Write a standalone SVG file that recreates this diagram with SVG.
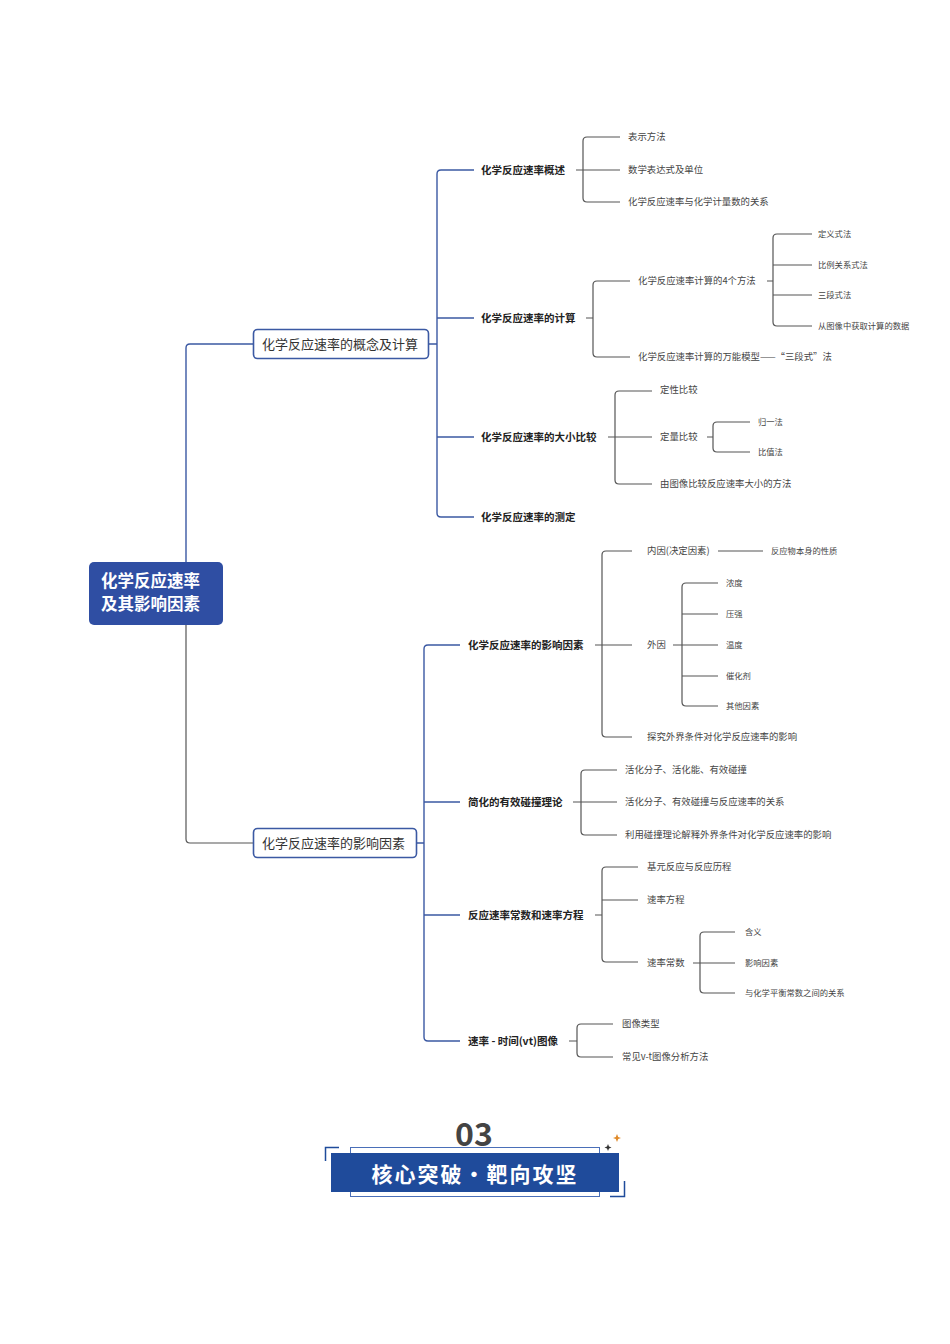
<svg xmlns="http://www.w3.org/2000/svg" width="950" height="1344" viewBox="0 0 950 1344">
<style>
text{font-family:"Noto Sans CJK SC","Noto Sans",sans-serif;dominant-baseline:central}
.root{fill:#fff;font-size:16.5px;font-weight:bold}
.l1{fill:#333;font-size:13px}
.l2{fill:#222;font-size:10.5px;font-weight:bold}
.l3{fill:#444;font-size:9.4px}
.l4{fill:#444;font-size:8.3px}
.cb{fill:none;stroke:#3b59a3;stroke-width:1.4}
.cg{fill:none;stroke:#555;stroke-width:1.2}
</style>
<rect width="950" height="1344" fill="#fff"/>
<g id="connectors">
<path class="cb" d="M186 562 V348 Q186 344 190 344 H253"/>
<path class="cg" d="M186 625 V839 Q186 843 190 843 H253"/>
<path class="cb" d="M428 344 H437 M474 170 H441 Q437 170 437 174 V513 Q437 517 441 517 H474 M437 318 H474 M437 437 H474"/>
<path class="cg" d="M576 170 H620 M620 137 H587 Q583 137 583 141 V198 Q583 202 587 202 H620"/>
<path class="cg" d="M586 318 H593 M630 281 H597 Q593 281 593 285 V353 Q593 357 597 357 H630"/>
<path class="cg" d="M767 281 H773 M812 234 H777 Q773 234 773 238 V322 Q773 326 777 326 H812 M773 265 H812 M773 295 H812"/>
<path class="cg" d="M608 437 H652 M652 391 H619 Q615 391 615 395 V480 Q615 484 619 484 H652"/>
<path class="cg" d="M707 437 H713 M750 422 H717 Q713 422 713 426 V448 Q713 452 717 452 H750"/>
<path class="cb" d="M416 843 H424 M460 645 H428 Q424 645 424 649 V1037 Q424 1041 428 1041 H460 M424 802 H460 M424 915 H460"/>
<path class="cg" d="M595 645 H632 M632 551 H606 Q602 551 602 555 V733 Q602 737 606 737 H632"/>
<path class="cg" d="M718 551 H763"/>
<path class="cg" d="M673 645 H718 M718 583 H686 Q682 583 682 587 V702 Q682 706 686 706 H718 M682 614 H718 M682 676 H718"/>
<path class="cg" d="M573 802 H617 M617 770 H585 Q581 770 581 774 V831 Q581 835 585 835 H617"/>
<path class="cg" d="M595 915 H602 M638 867 H606 Q602 867 602 871 V958 Q602 962 606 962 H638 M602 900 H638"/>
<path class="cg" d="M693 963 H735 M735 932 H704 Q700 932 700 936 V989 Q700 993 704 993 H735"/>
<path class="cg" d="M569 1041 H577 M613 1024 H581 Q577 1024 577 1028 V1053 Q577 1057 581 1057 H613"/>
</g>
<g id="root">
<rect x="89" y="562" width="134" height="63" rx="5" fill="#2f4ea3"/>
<text class="root" x="101" y="580">化学反应速率</text>
<text class="root" x="101" y="603">及其影响因素</text>
</g>
<g id="n-concept">
<rect x="253.5" y="329.5" width="175" height="29" rx="4" fill="#fff" stroke="#3b59a3" stroke-width="1.6"/>
<text class="l1" x="262" y="343" font-size="12.8">化学反应速率的概念及计算</text>
</g>
<g id="n-factors">
<rect x="253.5" y="828.5" width="163" height="29" rx="4" fill="#fff" stroke="#3b59a3" stroke-width="1.6"/>
<text class="l1" x="262" y="842" font-size="14">化学反应速率的影响因素</text>
</g>
<g id="n-overview" transform="translate(0,-1)">
<text class="l2" x="481" y="170">化学反应速率概述</text>
<text class="l3" x="628" y="137">表示方法</text>
<text class="l3" x="628" y="170">数学表达式及单位</text>
<text class="l3" x="628" y="202">化学反应速率与化学计量数的关系</text>
</g>
<g id="n-calc" transform="translate(0,-1)">
<text class="l2" x="481" y="318">化学反应速率的计算</text>
<text class="l3" x="638" y="281">化学反应速率计算的4个方法</text>
<text class="l3" x="638" y="357">化学反应速率计算的万能模型——“三段式”法</text>
<text class="l4" x="818" y="234">定义式法</text>
<text class="l4" x="818" y="265">比例关系式法</text>
<text class="l4" x="818" y="295">三段式法</text>
<text class="l4" x="818" y="326">从图像中获取计算的数据</text>
</g>
<g id="n-compare" transform="translate(0,-1)">
<text class="l2" x="481" y="437">化学反应速率的大小比较</text>
<text class="l3" x="660" y="390">定性比较</text>
<text class="l3" x="660" y="437">定量比较</text>
<text class="l3" x="660" y="484">由图像比较反应速率大小的方法</text>
<text class="l4" x="758" y="422">归一法</text>
<text class="l4" x="758" y="452">比值法</text>
</g>
<g id="n-measure" transform="translate(0,-1)">
<text class="l2" x="481" y="517">化学反应速率的测定</text>
</g>
<g id="n-influence" transform="translate(0,-1)">
<text class="l2" x="468" y="645">化学反应速率的影响因素</text>
<text class="l3" x="647" y="551">内因(决定因素)</text>
<text class="l4" x="771" y="551">反应物本身的性质</text>
<text class="l3" x="647" y="645">外因</text>
<text class="l4" x="726" y="583">浓度</text>
<text class="l4" x="726" y="614">压强</text>
<text class="l4" x="726" y="645">温度</text>
<text class="l4" x="726" y="676">催化剂</text>
<text class="l4" x="726" y="706">其他因素</text>
<text class="l3" x="647" y="737">探究外界条件对化学反应速率的影响</text>
</g>
<g id="n-collision" transform="translate(0,-1)">
<text class="l2" x="468" y="802">简化的有效碰撞理论</text>
<text class="l3" x="625" y="770">活化分子、活化能、有效碰撞</text>
<text class="l3" x="625" y="802">活化分子、有效碰撞与反应速率的关系</text>
<text class="l3" x="625" y="835">利用碰撞理论解释外界条件对化学反应速率的影响</text>
</g>
<g id="n-rate-eq" transform="translate(0,-1)">
<text class="l2" x="468" y="915">反应速率常数和速率方程</text>
<text class="l3" x="647" y="867">基元反应与反应历程</text>
<text class="l3" x="647" y="900">速率方程</text>
<text class="l3" x="647" y="963">速率常数</text>
<text class="l4" x="745" y="932">含义</text>
<text class="l4" x="745" y="963">影响因素</text>
<text class="l4" x="745" y="993">与化学平衡常数之间的关系</text>
</g>
<g id="n-vt" transform="translate(0,-1)">
<text class="l2" x="468" y="1041">速率 - 时间(vt)图像</text>
<text class="l3" x="622" y="1024">图像类型</text>
<text class="l3" x="622" y="1057">常见v-t图像分析方法</text>
</g>
<g id="banner">
<text x="474" y="1132" text-anchor="middle" font-size="32" font-weight="bold" fill="#444" font-family="'Noto Sans','Liberation Sans',sans-serif">03</text>
<rect x="350.5" y="1147.5" width="249" height="49" fill="none" stroke="#4a6fb8" stroke-width="1"/>
<rect x="331" y="1153" width="288" height="39" fill="#1f4b9b"/>
<text x="475" y="1173" text-anchor="middle" font-size="21" font-weight="bold" fill="#fff" letter-spacing="2">核心突破・靶向攻坚</text>
<path d="M325.5 1161 V1147.5 H339" fill="none" stroke="#1f4b9b" stroke-width="1.5"/>
<path d="M624.5 1181 V1196.5 H610" fill="none" stroke="#1f4b9b" stroke-width="1.5"/>
<path d="M608 1144 L609 1146.5 L611.5 1147.5 L609 1148.5 L608 1151 L607 1148.5 L604.5 1147.5 L607 1146.5 Z" fill="#333"/>
<path d="M617 1134 L618.2 1137 L621 1138 L618.2 1139 L617 1142 L615.8 1139 L613 1138 L615.8 1137 Z" fill="#e08a2a"/>
</g>
</svg>
